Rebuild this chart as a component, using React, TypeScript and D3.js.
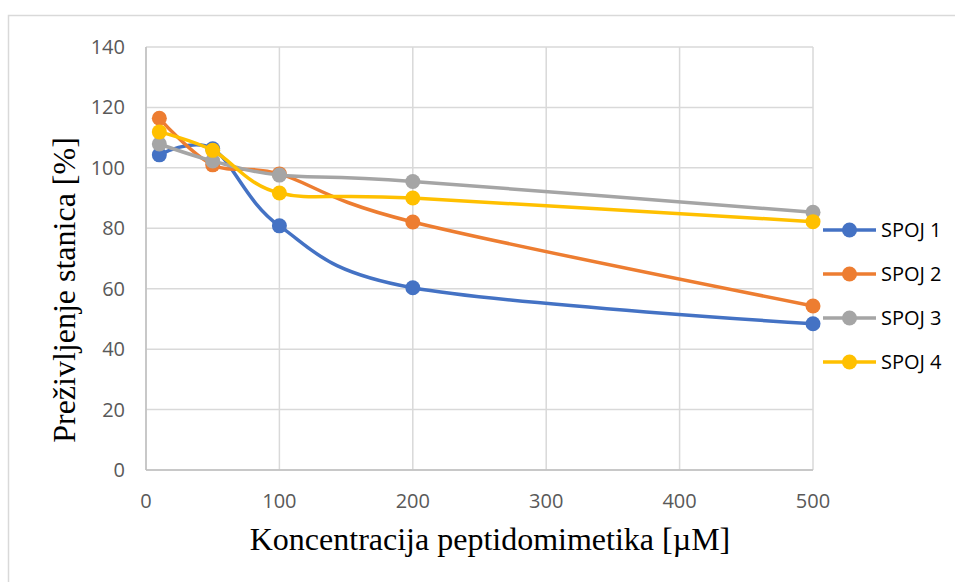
import React, { useEffect, useRef } from "react";
import * as d3 from "d3";

const concentrations = [10, 50, 100, 200, 500];
const spoj1 = [104.3, 106.3, 80.8, 60.3, 48.4];
const spoj2 = [116.4, 101.0, 98.0, 82.1, 54.3];
const spoj3 = [107.9, 102.3, 97.6, 95.5, 85.3];
const spoj4 = [111.9, 105.8, 91.7, 90.0, 82.2];
const seriesNames = ["SPOJ 1", "SPOJ 2", "SPOJ 3", "SPOJ 4"];
const colors = ["#4472c4", "#ed7d31", "#a5a5a5", "#ffc000"];
const xTicks = [0, 100, 200, 300, 400, 500];
const yTicks = [0, 20, 40, 60, 80, 100, 120, 140];

const App = () => {
  const svgRef = useRef<SVGSVGElement>(null);

  useEffect(() => {
    const svg = d3.select(svgRef.current);
    svg.selectAll("*").remove();
    const width = 955;
    const height = 582;
    svg.attr("width", width).attr("height", height);

    // chart border
    svg
      .append("rect")
      .attr("x", 8.5)
      .attr("y", 15.5)
      .attr("width", 960)
      .attr("height", 600)
      .attr("fill", "white")
      .attr("stroke", "#d9d9d9")
      .attr("stroke-width", 1.5);

    const x = d3.scaleLinear().domain([0, 500]).range([146, 813]);
    const y = d3.scaleLinear().domain([0, 140]).range([470, 47]);

    const grid = svg.append("g");
    grid
      .selectAll("line.h")
      .data(yTicks)
      .join("line")
      .attr("x1", x(0))
      .attr("x2", x(500))
      .attr("y1", (d) => y(d))
      .attr("y2", (d) => y(d))
      .attr("stroke", "#d9d9d9")
      .attr("stroke-width", 1.5);
    grid
      .selectAll("line.v")
      .data(xTicks)
      .join("line")
      .attr("x1", (d) => x(d))
      .attr("x2", (d) => x(d))
      .attr("y1", y(0))
      .attr("y2", y(140))
      .attr("stroke", "#d9d9d9")
      .attr("stroke-width", 1.5);
    // axis lines
    svg
      .append("line")
      .attr("x1", x(0))
      .attr("x2", x(0))
      .attr("y1", y(0))
      .attr("y2", y(140))
      .attr("stroke", "#bfbfbf")
      .attr("stroke-width", 1.5);
    svg
      .append("line")
      .attr("x1", x(0))
      .attr("x2", x(500))
      .attr("y1", y(0))
      .attr("y2", y(0))
      .attr("stroke", "#bfbfbf")
      .attr("stroke-width", 1.5);

    const tickFont = "'Open Sans', sans-serif";
    svg
      .append("g")
      .selectAll("text")
      .data(yTicks)
      .join("text")
      .attr("x", 125)
      .attr("y", (d) => y(d) + 7)
      .attr("text-anchor", "end")
      .style("font-family", tickFont)
      .style("font-size", "20px")
      .attr("fill", "#595959")
      .text((d) => d);
    svg
      .append("g")
      .selectAll("text")
      .data(xTicks)
      .join("text")
      .attr("x", (d) => x(d))
      .attr("y", 508)
      .attr("text-anchor", "middle")
      .style("font-family", tickFont)
      .style("font-size", "20px")
      .attr("fill", "#595959")
      .text((d) => d);

    // axis titles
    svg
      .append("text")
      .attr("x", 490)
      .attr("y", 550)
      .attr("text-anchor", "middle")
      .style("font-family", "'Liberation Serif', serif")
      .style("font-size", "32px")
      .attr("fill", "#000")
      .text("Koncentracija peptidomimetika [µM]");
    svg
      .append("text")
      .attr("transform", "translate(75,290) rotate(-90)")
      .attr("text-anchor", "middle")
      .style("font-family", "'Liberation Serif', serif")
      .style("font-size", "32px")
      .attr("fill", "#000")
      .text("Preživljenje stanica [%]");

    const allSeries = [spoj1, spoj2, spoj3, spoj4];
    const line = d3
      .line<number>()
      .x((d, i) => x(concentrations[i]))
      .y((d) => y(d))
      .curve(d3.curveCardinal.tension(0));

    allSeries.forEach((vals, s) => {
      const g = svg.append("g");
      g.append("path")
        .datum(vals)
        .attr("fill", "none")
        .attr("stroke", colors[s])
        .attr("stroke-width", 3.5)
        .attr("stroke-linecap", "round")
        .attr("d", line);
      g.selectAll("circle")
        .data(vals)
        .join("circle")
        .attr("cx", (d, i) => x(concentrations[i]))
        .attr("cy", (d) => y(d))
        .attr("r", 7.5)
        .attr("fill", colors[s]);
    });

    // legend
    const legend = svg.append("g");
    seriesNames.forEach((name, i) => {
      const ly = 230 + i * 44;
      legend
        .append("line")
        .attr("x1", 823)
        .attr("x2", 876)
        .attr("y1", ly)
        .attr("y2", ly)
        .attr("stroke", colors[i])
        .attr("stroke-width", 3.5);
      legend
        .append("circle")
        .attr("cx", 849.5)
        .attr("cy", ly)
        .attr("r", 7.5)
        .attr("fill", colors[i]);
      legend
        .append("text")
        .attr("x", 881)
        .attr("y", ly + 7)
        .style("font-family", tickFont)
        .style("font-size", "20px")
        .attr("fill", "#000")
        .text(name);
    });
  }, []);

  return (
    <div style={{ position: "absolute", left: 0, top: 0 }}>
      <svg ref={svgRef} style={{ display: "block" }}></svg>
    </div>
  );
};

export default App;
